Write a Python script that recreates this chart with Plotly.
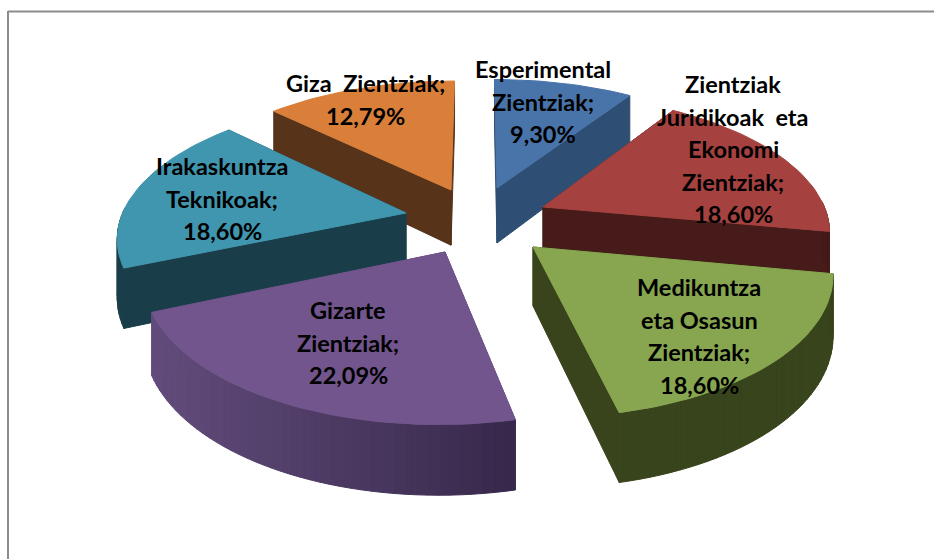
import math
import plotly.graph_objects as go

# ---- data ----
categories = ["Esperimental Zientziak", "Zientziak Juridikoak eta Ekonomi Zientziak",
              "Medikuntza eta Osasun Zientziak", "Gizarte Zientziak",
              "Irakaskuntza Teknikoak", "Giza Zientziak"]
values = [9.30, 18.60, 18.60, 22.09, 18.60, 12.79]
label_lines = [
    ["Esperimental", "Zientziak;", "9,30%"],
    ["Zientziak", "Juridikoak\u00a0 eta", "Ekonomi", "Zientziak;", "18,60%"],
    ["Medikuntza", "eta Osasun", "Zientziak;", "18,60%"],
    ["Gizarte", "Zientziak;", "22,09%"],
    ["Irakaskuntza", "Teknikoak;", "18,60%"],
    ["Giza\u00a0 Zientziak;", "12,79%"],
]
top_colors = ["#4874A9", "#A5423F", "#87A64F", "#71558C", "#4196AF", "#D97F3A"]
wall_colors = ["#2F4E74", "#461B19", "#39441C", "#5A4474", "#1A3E49", "#57331A"]
rim_left = ["#2F4E74", "#461B19", "#3F4C20", "#624C7C", "#1A3E49", "#57331A"]
rim_right = ["#2F4E74", "#461B19", "#38441C", "#36284A", "#1D4552", "#57331A"]
label_x = [543, 733, 699, 348, 222, 365]
label_y0 = [69, 84, 287, 310, 166, 83]

# ---- 3D pie projection settings ----
CX, CY = 478, 218
D, K, R, H = 1835, 0.47, 285, 57
tips = [(497, 188), (543, 207), (533, 247), (445, 252), (406, 213), (451, 190)]
draw_order = [5, 0, 4, 1, 3, 2]
W, HT = 934, 559


def project(X, Y, z=0.0):
    s = D / (D + Y)
    return CX + X * s, CY - K * Y * s + z * s


def unproject(px, py):
    a = py - CY
    Y = -a * D / (K * D + a)
    s = D / (D + Y)
    return (px - CX) / s, Y


def hex2rgb(h):
    return tuple(int(h[i:i + 2], 16) for i in (1, 3, 5))


def mix(a, b, f):
    ca, cb = hex2rgb(a), hex2rgb(b)
    return "rgb(%d,%d,%d)" % tuple(round(x + (y - x) * f) for x, y in zip(ca, cb))


fig = go.Figure()


def poly(pts, color, lw=1.0):
    xs = [p[0] for p in pts] + [pts[0][0]]
    ys = [p[1] for p in pts] + [pts[0][1]]
    fig.add_trace(go.Scatter(x=xs, y=ys, mode="lines", fill="toself", fillcolor=color,
                             line=dict(color=color, width=lw), hoverinfo="skip",
                             showlegend=False))


total = sum(values)
starts = []
acc = 0.0
for v in values:
    starts.append(acc / total * 2 * math.pi)
    acc += v

for i in draw_order:
    t0 = starts[i]
    t1 = t0 + values[i] / total * 2 * math.pi
    tx, ty = unproject(*tips[i])
    n = max(12, int(values[i] * 2))
    ts = [t0 + (t1 - t0) * k / n for k in range(n + 1)]
    plane = [(tx + R * math.sin(t), ty + R * math.cos(t)) for t in ts]
    # radial walls
    for pt in (plane[0], plane[-1]):
        poly([project(tx, ty), project(*pt), project(pt[0], pt[1], H), project(tx, ty, H)],
             wall_colors[i])
    # outer rim, shaded by position (front-facing part only)
    for k in range(n):
        tm = (ts[k] + ts[k + 1]) / 2
        if math.cos(tm) > 0.05:
            continue
        a, b = plane[k], plane[k + 1]
        pa, pb = project(*a), project(*b)
        f = min(1, max(0, ((pa[0] + pb[0]) / 2 - 150) / 370))
        poly([pa, pb, project(b[0], b[1], H), project(a[0], a[1], H)],
             mix(rim_left[i], rim_right[i], f))
    # top face
    poly([project(tx, ty)] + [project(*p) for p in plane], top_colors[i])

annotations = []
for lines, x, y0 in zip(label_lines, label_x, label_y0):
    for j, line in enumerate(lines):
        annotations.append(dict(x=x, y=y0 + j * 32.5, xref="x", yref="y",
                                text="<b>" + line + "</b>",
                                showarrow=False, xanchor="center", yanchor="middle",
                                font=dict(family="Lato", size=23.5, color="#000000")))

shapes = [
    dict(type="line", xref="x", yref="y", x0=8, y0=11.5, x1=W, y1=11.5,
         line=dict(color="#8C8C8C", width=2)),
    dict(type="line", xref="x", yref="y", x0=8, y0=11, x1=8, y1=HT,
         line=dict(color="#8C8C8C", width=2)),
]

fig.update_layout(
    width=W, height=HT, margin=dict(l=0, r=0, t=0, b=0),
    paper_bgcolor="white", plot_bgcolor="white", showlegend=False,
    xaxis=dict(range=[0, W], visible=False, fixedrange=True),
    yaxis=dict(range=[HT, 0], visible=False, fixedrange=True),
    annotations=annotations, shapes=shapes,
)
fig.write_html("out.html", config=dict(displayModeBar=False),
               post_script="document.body.style.margin='0';document.body.style.overflow='hidden';")
